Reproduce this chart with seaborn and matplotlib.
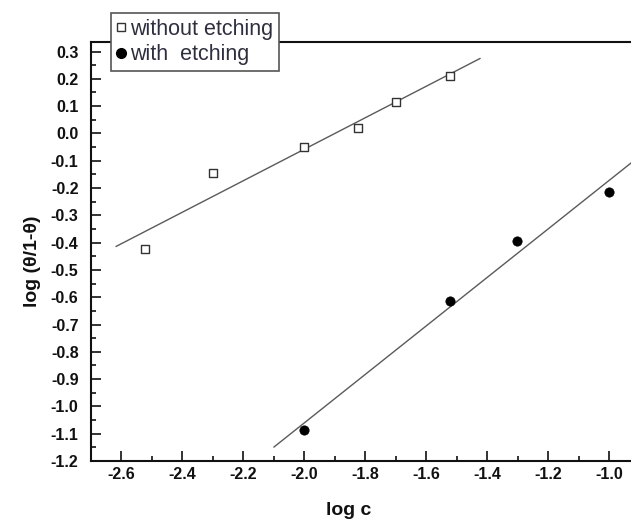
import numpy as np
import pandas as pd
import matplotlib
matplotlib.use("Agg")
import matplotlib.pyplot as plt
import seaborn as sns
from matplotlib.lines import Line2D

# ---- data ----
x_without = [-2.523, -2.301, -2.000, -1.824, -1.699, -1.523]
y_without = [-0.424, -0.145, -0.048, 0.020, 0.115, 0.210]
x_with = [-2.000, -1.523, -1.301, -1.000]
y_with = [-1.086, -0.614, -0.394, -0.215]
labels = ["without etching", "with  etching"]
xticks = [-2.6, -2.4, -2.2, -2.0, -1.8, -1.6, -1.4, -1.2, -1.0]
yticks = [0.3, 0.2, 0.1, 0.0, -0.1, -0.2, -0.3, -0.4, -0.5, -0.6, -0.7,
          -0.8, -0.9, -1.0, -1.1, -1.2]

sns.set_theme(style="ticks")
plt.rcParams['font.family'] = ['Liberation Sans', 'DejaVu Sans']

fig = plt.figure(figsize=(6.31, 5.22), dpi=100)
ax = fig.add_axes([91/631, 61/522, 540/631, 419/522])

df_wo = pd.DataFrame({"x": x_without, "y": y_without})
df_w = pd.DataFrame({"x": x_with, "y": y_with})

# linear fits computed from the data
line_col = "#5a5a5a"
k1, b1 = np.polyfit(df_wo.x, df_wo.y, 1)
xf1 = np.array([df_wo.x.min() - 0.095, df_wo.x.max() + 0.10])
sns.lineplot(x=xf1, y=k1 * xf1 + b1, ax=ax, color=line_col, lw=1.0, legend=False)
k2, b2 = np.polyfit(df_w.x, df_w.y, 1)
xf2 = np.array([df_w.x.min() - 0.10, df_w.x.max() + 0.3])
sns.lineplot(x=xf2, y=k2 * xf2 + b2, ax=ax, color=line_col, lw=1.0, legend=False)

sns.scatterplot(data=df_wo, x="x", y="y", ax=ax, marker="s", s=30,
                facecolor="white", edgecolor="#333333", linewidth=1.0, zorder=3)
sns.scatterplot(data=df_w, x="x", y="y", ax=ax, marker="o", s=45,
                color="black", edgecolor="black", linewidth=0.5, zorder=3)

ax.set_xlim(-2.70, -0.928)
ax.set_ylim(-1.2, 0.335)
ax.set_xticks(xticks)
ax.set_xticklabels([f"{v:.1f}" for v in xticks])
ax.set_yticks(yticks)
ax.set_yticklabels([f"{v:.1f}" for v in yticks])
ax.set_xticks(np.array(xticks[:-1]) + 0.1, minor=True)
ax.set_yticks(np.array(yticks[1:]) + 0.05, minor=True)

for lab in ax.get_xticklabels() + ax.get_yticklabels():
    lab.set_fontweight("bold")
    lab.set_fontsize(11.5)
    lab.set_color("#111111")

ax.tick_params(which="major", direction="in", length=7.5, width=1.2, color="#111111")
ax.tick_params(which="minor", direction="in", length=3.5, width=1.2, color="#111111")
ax.tick_params(axis="y", which="both", pad=9)
ax.tick_params(axis="x", which="both", pad=4)

for side in ["left", "bottom", "top"]:
    ax.spines[side].set_linewidth(1.5)
    ax.spines[side].set_color("#111111")
ax.spines["right"].set_visible(False)

ax.set_xlabel("log c", fontsize=14, fontweight="bold", color="#111111")
ax.set_ylabel("log (θ/1-θ)", fontsize=14, fontweight="bold", color="#111111")
ax.xaxis.set_label_coords(0.478, -0.098)
ax.yaxis.set_label_coords(-0.092, 0.477)

handles = [
    Line2D([], [], marker="s", linestyle="none", markersize=6,
           markerfacecolor="white", markeredgecolor="#333333", markeredgewidth=1.0),
    Line2D([], [], marker="o", linestyle="none", markersize=7,
           markerfacecolor="black", markeredgecolor="black"),
]
leg = fig.legend(handles, labels, loc="upper left",
                 bbox_to_anchor=(111/631, 1 - 13/522),
                 frameon=True, fancybox=False, framealpha=1,
                 edgecolor="#555555", fontsize=15.5, handlelength=0.4,
                 handletextpad=0.2, borderpad=0.28, labelspacing=0.2,
                 borderaxespad=0.0)
leg.get_frame().set_linewidth(1.2)
for t in leg.get_texts():
    t.set_color("#2e2e3e")
leg.set_zorder(10)

fig.savefig("out.png", dpi=100)
